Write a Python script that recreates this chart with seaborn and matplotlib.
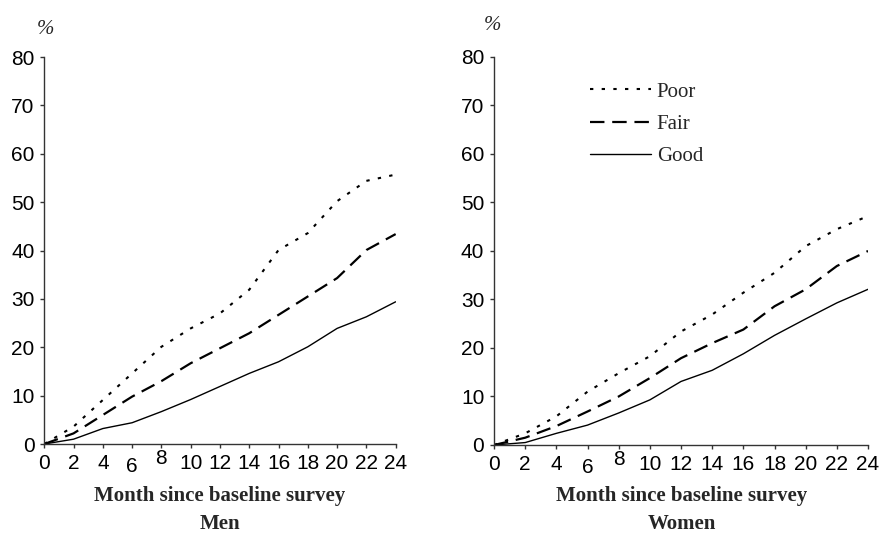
import matplotlib
matplotlib.use("Agg")
import matplotlib.pyplot as plt
from matplotlib.transforms import ScaledTranslation
import seaborn as sns
import pandas as pd

# Cumulative percentage by self-rated health, months since baseline survey
months = [0, 2, 4, 6, 8, 10, 12, 14, 16, 18, 20, 22, 24]

men_poor = [0, 3.6, 9.1, 14.6, 20.1, 23.9, 27.0, 31.9, 40.1, 43.6, 50.2, 54.4, 55.7]
men_fair = [0, 2.2, 6.0, 9.8, 13.0, 16.7, 19.8, 22.9, 26.7, 30.5, 34.3, 40.1, 43.4]
men_good = [0, 1.0, 3.2, 4.4, 6.7, 9.2, 11.9, 14.6, 17.0, 20.1, 23.9, 26.3, 29.4]

women_poor = [0, 2.4, 5.9, 11.0, 14.8, 18.3, 23.4, 26.9, 31.4, 35.5, 41.0, 44.5, 47.2]
women_fair = [0, 1.5, 3.9, 6.9, 10.0, 13.8, 17.9, 21.0, 23.8, 28.6, 32.1, 36.9, 40.0]
women_good = [0, 0.5, 2.4, 4.1, 6.6, 9.3, 13.1, 15.4, 18.8, 22.6, 26.0, 29.3, 32.1]

health_levels = ["Poor", "Fair", "Good"]
panel_names = ["Men", "Women"]
xtick_labels = [str(m) for m in months]
yticks = [0, 10, 20, 30, 40, 50, 60, 70, 80]

frames = []
for panel, series in zip(panel_names, [(men_poor, men_fair, men_good),
                                       (women_poor, women_fair, women_good)]):
    for level, vals in zip(health_levels, series):
        frames.append(pd.DataFrame({"month": months, "pct": vals,
                                    "health": level, "panel": panel}))
df = pd.concat(frames, ignore_index=True)

sns.set_theme(style="ticks")
plt.rcParams["font.family"] = ["Liberation Sans", "DejaVu Sans"]

line_styles = {
    "Poor": dict(linestyle=(0, (1.6, 4.0)), linewidth=1.5),
    "Fair": dict(linestyle=(0, (6.5, 3.5)), linewidth=1.6),
    "Good": dict(linestyle="-", linewidth=1.0),
}

fig = plt.figure(figsize=(8.8, 5.36), dpi=100)
ax_men = fig.add_axes([0.0503, 0.1716, 0.3993, 0.722])
ax_women = fig.add_axes([0.5614, 0.1698, 0.4250, 0.7239])

serif = ["Liberation Serif", "DejaVu Serif"]

for ax, panel, xc in [(ax_men, "Men", 220), (ax_women, "Women", 682)]:
    sub = df[df["panel"] == panel]
    for level in health_levels:
        d = sub[sub["health"] == level]
        sns.lineplot(data=d, x="month", y="pct", ax=ax, color="black",
                     label=level, legend=False, **line_styles[level])
    ax.set_xlim(0, 24)
    ax.set_ylim(0, 80)
    ax.set_xticks(months)
    ax.set_xticklabels(xtick_labels)
    ax.set_yticks(yticks)
    ax.set_xlabel("")
    ax.set_ylabel("")
    sns.despine(ax=ax)
    for side in ["left", "bottom"]:
        ax.spines[side].set_color("#333333")
        ax.spines[side].set_linewidth(1.0)
    ax.tick_params(axis="both", direction="out", length=3, width=1.0,
                   color="#333333", labelsize=15, labelcolor="black", pad=4)
    ax.patch.set_alpha(0)
    # slight vertical stagger of the "6" and "8" month labels
    for lab in ax.get_xticklabels():
        if lab.get_text() == "6":
            lab.set_transform(lab.get_transform() +
                              ScaledTranslation(0, -3 / 100, fig.dpi_scale_trans))
        elif lab.get_text() == "8":
            lab.set_transform(lab.get_transform() +
                              ScaledTranslation(0, 5 / 100, fig.dpi_scale_trans))

    fig.text(xc / 880, 1 - 496 / 536, "Month since baseline survey",
             ha="center", va="center", fontsize=15, fontweight="bold",
             family=serif)
    fig.text(xc / 880, 1 - 524 / 536, panel, ha="center", va="center",
             fontsize=15, fontweight="bold", family=serif)

fig.text(45 / 880, 1 - 30 / 536, "%", ha="center", va="center",
         fontsize=15, style="italic", family=serif)
fig.text(492 / 880, 1 - 25 / 536, "%", ha="center", va="center",
         fontsize=15, style="italic", family=serif)

handles, labels = ax_women.get_legend_handles_labels()
ax_women.legend(handles, labels, loc="upper left",
                bbox_to_anchor=(0.257, 0.935), frameon=False,
                borderaxespad=0, borderpad=0, handlelength=2.9,
                handletextpad=0.3, labelspacing=0.6,
                prop={"family": serif, "size": 15})

fig.savefig("out.png", dpi=100, facecolor="white")
